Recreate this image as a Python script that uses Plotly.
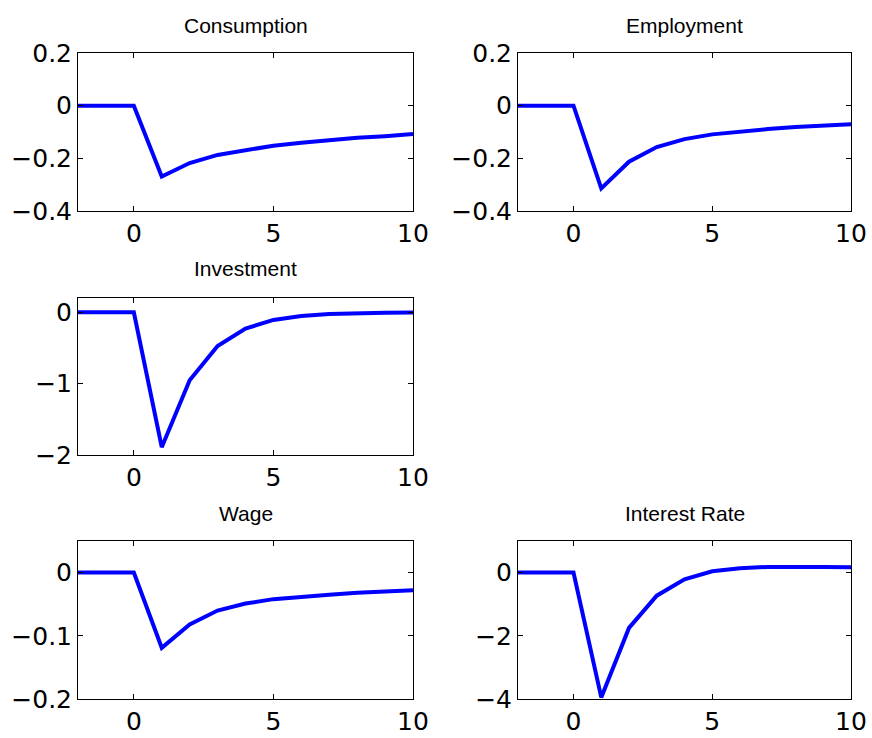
import plotly.graph_objects as go

# horizon (periods relative to shock)
periods = [-2, -1, 0, 1, 2, 3, 4, 5, 6, 7, 8, 9, 10]

consumption = [0, 0, 0, -0.269, -0.218, -0.187, -0.168, -0.152, -0.141, -0.131, -0.122, -0.116, -0.108]
employment = [0, 0, 0, -0.314, -0.213, -0.157, -0.127, -0.109, -0.098, -0.089, -0.081, -0.076, -0.071]
investment = [0, 0, 0, -1.89, -0.953, -0.474, -0.228, -0.107, -0.051, -0.023, -0.010, -0.005, -0.003]
wage = [0, 0, 0, -0.119, -0.082, -0.060, -0.049, -0.042, -0.038, -0.035, -0.032, -0.030, -0.028]
interest_rate = [0, 0, 0, -3.95, -1.75, -0.73, -0.21, 0.04, 0.14, 0.18, 0.19, 0.18, 0.17]

titles = ["Consumption", "Employment", "Investment", "Wage", "Interest Rate"]
series = [consumption, employment, investment, wage, interest_rate]
y_ranges = [[-0.4, 0.2], [-0.4, 0.2], [-2, 0.2], [-0.2, 0.05], [-4, 1]]
y_ticks = [[-0.4, -0.2, 0, 0.2], [-0.4, -0.2, 0, 0.2], [-2, -1, 0], [-0.2, -0.1, 0], [-4, -2, 0]]
x_ticks = [0, 5, 10]

W, H = 872, 738
# pixel boxes of each panel: (left, right, top, bottom)
boxes = [
    (78, 413, 53, 211),
    (518, 851, 53, 211),
    (78, 413, 298, 455),
    (78, 413, 541, 699),
    (518, 851, 541, 699),
]
title_y = [25, 25, 269, 513, 513]

fig = go.Figure()
layout = {}
annotations = []
for i, (name, vals) in enumerate(zip(titles, series)):
    n = i + 1
    xa = "x" if n == 1 else f"x{n}"
    ya = "y" if n == 1 else f"y{n}"
    fig.add_scatter(x=periods, y=vals, mode="lines", xaxis=xa, yaxis=ya,
                    line=dict(color="#0000FF", width=4), showlegend=False)
    l, r, t, b = boxes[i]
    axis_common = dict(showline=True, linecolor="black", linewidth=1, mirror="ticks",
                       ticks="inside", ticklen=5, tickcolor="black", showgrid=False,
                       zeroline=False, automargin=False,
                       tickfont=dict(family="DejaVu Sans", size=25, color="black"))
    layout[f"xaxis{n}"] = dict(axis_common, domain=[l / W, r / W], range=[-2, 10],
                               tickvals=x_ticks, anchor=ya)
    layout[f"yaxis{n}"] = dict(axis_common, domain=[1 - b / H, 1 - t / H], range=y_ranges[i],
                               tickvals=y_ticks[i], anchor=xa)
    annotations.append(dict(text=name, x=(l + r) / 2 / W, y=1 - title_y[i] / H,
                            xref="paper", yref="paper", showarrow=False,
                            xanchor="center", yanchor="middle",
                            font=dict(size=21, color="black")))

fig.update_layout(**layout)
fig.update_layout(width=W, height=H, margin=dict(l=0, r=0, t=0, b=0),
                  paper_bgcolor="white", plot_bgcolor="white",
                  font=dict(family="Liberation Sans, Arial, sans-serif", color="black"),
                  annotations=annotations)

# drop the browser's default body margin so the figure sits at the page origin
fig.write_html("out.html", config={"displayModeBar": False},
               post_script="document.body.style.margin = '0';")
